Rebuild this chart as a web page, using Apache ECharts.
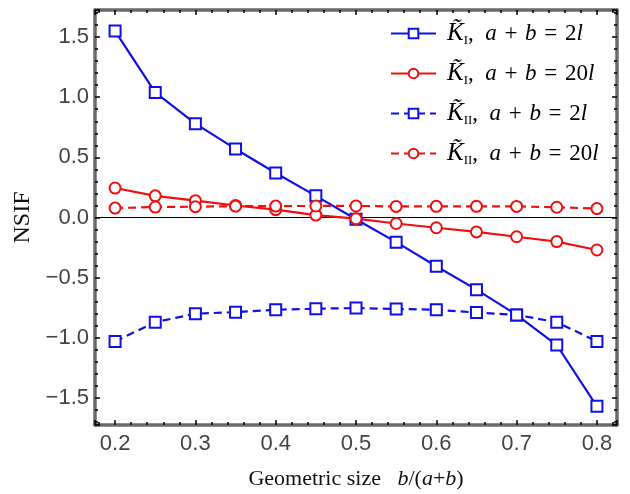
<!DOCTYPE html>
<html>
<head>
<meta charset="utf-8">
<script src="https://cdn.jsdelivr.net/npm/echarts@6/dist/echarts.min.js"></script>
<style>
  html, body { margin: 0; padding: 0; background: #fff; }
  #chart { width: 630px; height: 494px; }
</style>
</head>
<body>
<div id="chart"></div>
<script>
    // geometric size b/(a+b)
    const ratio = [0.2, 0.25, 0.3, 0.35, 0.4, 0.45, 0.5, 0.55, 0.6, 0.65, 0.7, 0.75, 0.8];
    // normalised SIFs
    const kI_2l = [1.55, 1.04, 0.78, 0.57, 0.37, 0.18, -0.015, -0.205, -0.405, -0.60, -0.81, -1.06, -1.57];
    const kI_20l = [0.245, 0.18, 0.14, 0.10, 0.065, 0.02, -0.01, -0.05, -0.085, -0.12, -0.16, -0.20, -0.27];
    const kII_2l = [-1.03, -0.87, -0.80, -0.787, -0.767, -0.758, -0.753, -0.76, -0.767, -0.79, -0.81, -0.87, -1.03];
    const kII_20l = [0.078, 0.087, 0.09, 0.094, 0.095, 0.096, 0.096, 0.092, 0.093, 0.093, 0.092, 0.085, 0.074];

    const legendText = {
        kI_2l: ['I', '2'],
        kI_20l: ['I', '20'],
        kII_2l: ['II', '2'],
        kII_20l: ['II', '20']
    };

    const blue = '#1010e6';
    const red = '#ee1010';
    const frameColor = '#6a6a6a';

    function pairs(arr) {
        return ratio.map((x, i) => [x, arr[i]]);
    }

    function frameAxis(extra) {
        return Object.assign({
            type: 'value',
            axisLine: {show: true, onZero: false, lineStyle: {color: frameColor, width: 3.5}},
            axisTick: {show: true, inside: true, length: 5, lineStyle: {color: '#000', width: 1.5}},
            minorTick: {show: true, splitNumber: 5, length: 3, lineStyle: {color: '#000', width: 1.5}},
            splitLine: {show: false},
            axisLabel: {show: false}
        }, extra);
    }

    function tickLabel(step) {
        return function (v) {
            const k = v / step;
            if (Math.abs(k - Math.round(k)) > 1e-6) return '';
            return v.toFixed(1).replace('-', '\u2212');
        };
    }

    const serif = '"Liberation Serif", "DejaVu Serif", serif';
    const sans = '"Liberation Sans", Arial, sans-serif';

    function line(name, data, color, symbol, dashed) {
        return {
            name: name,
            type: 'line',
            data: pairs(data),
            symbol: symbol,
            symbolSize: 11,
            showSymbol: true,
            lineStyle: {color: color, width: 2.2, type: dashed ? [8, 5] : 'solid'},
            itemStyle: {color: color, borderColor: color, borderWidth: 1.4},
            z: 3
        };
    }

    const chart = echarts.init(document.getElementById('chart'));
    const seriesList = [
        line('kI_2l', kI_2l, blue, 'emptyRect', false),
        line('kI_20l', kI_20l, red, 'emptyCircle', false),
        line('kII_2l', kII_2l, blue, 'emptyRect', true),
        line('kII_20l', kII_20l, red, 'emptyCircle', true)
    ];
    // zero line
    seriesList[0].markLine = {
        silent: true,
        symbol: 'none',
        label: {show: false},
        lineStyle: {color: '#000', width: 1, type: 'solid'},
        data: [{yAxis: 0}],
        z: 1
    };

    const sp = ' \u200a';

    chart.setOption({
        animation: false,
        backgroundColor: '#fff',
        grid: {left: 95, right: 13, top: 10, bottom: 69, outerBoundsMode: 'none', containLabel: false},
        legend: {
            orient: 'vertical',
            left: 385,
            top: 16,
            itemWidth: 45,
            itemHeight: 12,
            itemGap: 14,
            backgroundColor: '#fff',
            data: ['kI_2l', 'kI_20l', 'kII_2l', 'kII_20l'],
            formatter: function (name) {
                const t = legendText[name];
                return '{k|K\u0303}{sub|' + t[0] + '}{t|,  }{i|a}{t|' + sp + '+' + sp + '}{i|b}{t|' + sp + '=' + sp + t[1] + '}{i|l}';
            },
            textStyle: {
                fontFamily: serif,
                fontSize: 23,
                color: '#000',
                rich: {
                    k: {fontFamily: serif, fontStyle: 'italic', fontSize: 25, padding: [0, 0, 0, 6], lineHeight: 27},
                    sub: {fontFamily: serif, fontSize: 13, verticalAlign: 'bottom', lineHeight: 27},
                    t: {fontFamily: serif, fontSize: 23, lineHeight: 27},
                    i: {fontFamily: serif, fontStyle: 'italic', fontSize: 23, lineHeight: 27}
                }
            }
        },
        xAxis: [
            frameAxis({
                min: 0.175, max: 0.825, splitNumber: 6,
                position: 'bottom',
                name: 'Geometric size   {i|b}/({i|a}+{i|b})',
                nameLocation: 'middle',
                nameGap: 43,
                nameTextStyle: {
                    fontFamily: serif, fontSize: 22, color: '#111',
                    rich: {i: {fontFamily: serif, fontStyle: 'italic', fontSize: 22, color: '#111'}}
                },
                axisLabel: {
                    show: true, margin: 8, fontFamily: sans, fontSize: 22, color: '#444',
                    formatter: tickLabel(0.1)
                }
            }),
            frameAxis({min: 0.175, max: 0.825, splitNumber: 6, position: 'top'})
        ],
        yAxis: [
            frameAxis({
                min: -1.725, max: 1.725, splitNumber: 7,
                position: 'left',
                name: 'NSIF',
                nameLocation: 'middle',
                nameGap: 55,
                nameTextStyle: {fontFamily: serif, fontSize: 24, color: '#111'},
                axisLabel: {
                    show: true, margin: 6, fontFamily: sans, fontSize: 22, color: '#444',
                    formatter: tickLabel(0.5)
                }
            }),
            frameAxis({min: -1.725, max: 1.725, splitNumber: 7, position: 'right'})
        ],
        series: seriesList
    });
</script>
</body>
</html>
